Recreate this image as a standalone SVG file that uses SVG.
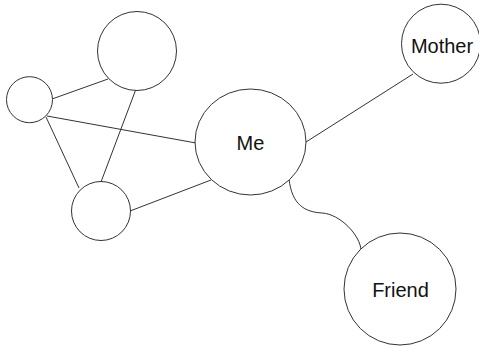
<svg xmlns="http://www.w3.org/2000/svg" width="479" height="347" viewBox="0 0 479 347">
<style>
.n{fill:#fff;stroke:#333;stroke-width:1}
.c{fill:none;stroke:#333;stroke-width:1}
.t{font-family:"Liberation Sans",Arial,sans-serif;font-size:20px;fill:#111;text-anchor:middle}
</style>
<rect width="479" height="347" fill="#fff"/>
<g id="connectors">
<line class="c" x1="52" y1="99" x2="108" y2="79"/>
<line class="c" x1="47" y1="116" x2="196" y2="143"/>
<line class="c" x1="46" y1="117" x2="79" y2="188"/>
<line class="c" x1="136" y1="89" x2="101" y2="182"/>
<line class="c" x1="130" y1="211" x2="211" y2="180"/>
<line class="c" x1="306" y1="142" x2="413" y2="74"/>
<path class="c" d="M289,179 C292,205 305,212 322,213 C340,214 360,235 361,250"/>
</g>
<g id="node-top"><circle class="n" cx="137" cy="51" r="39.5"/></g>
<g id="node-left"><circle class="n" cx="29.5" cy="99.7" r="23"/></g>
<g id="node-bottom"><circle class="n" cx="101" cy="211" r="29.5"/></g>
<g id="node-me"><ellipse class="n" cx="250.5" cy="142" rx="55.5" ry="53"/><text class="t" x="250.5" y="150">Me</text></g>
<g id="node-mother"><circle class="n" cx="441" cy="43.7" r="39.5"/><text class="t" x="442" y="52.5">Mother</text></g>
<g id="node-friend"><circle class="n" cx="400" cy="289" r="56"/><text class="t" x="400.5" y="296.5">Friend</text></g>
</svg>
